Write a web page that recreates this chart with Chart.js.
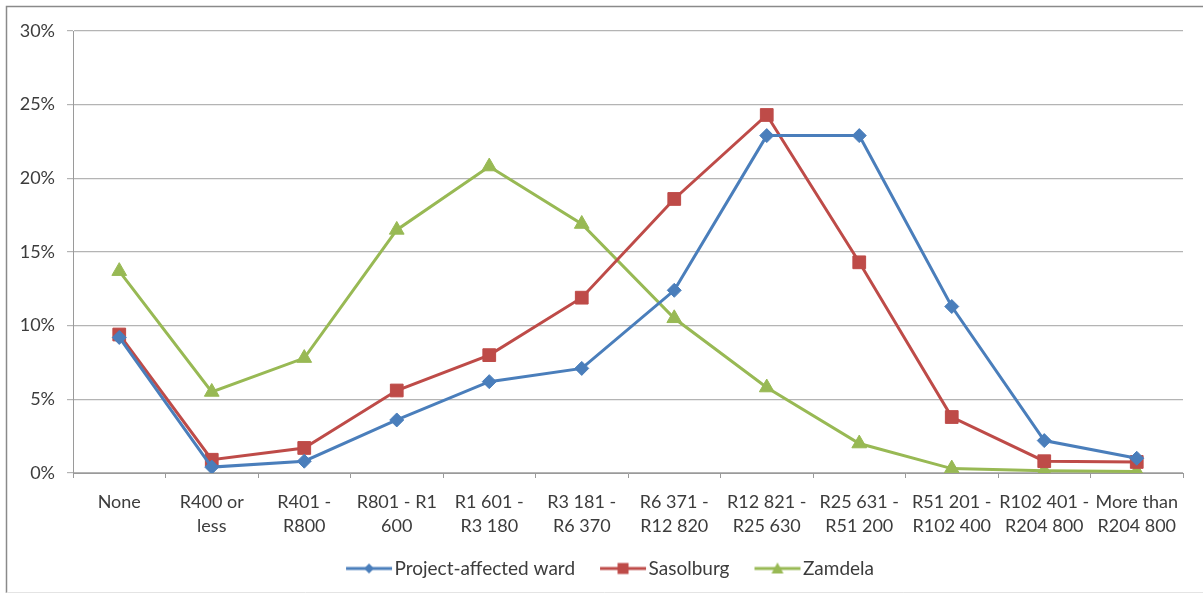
<!DOCTYPE html>
<html>
<head>
<meta charset="utf-8">
<script src="https://cdn.jsdelivr.net/npm/chart.js@4/dist/chart.umd.min.js"></script>
<style>
  html, body { margin: 0; padding: 0; background: #fff; }
  #wrap { width: 1203px; height: 598px; position: relative; }
</style>
</head>
<body>
<div id="wrap"><canvas id="c" width="1203" height="598"></canvas></div>
<script>
// Monthly household income bands
const incomeBands = [
  'None',
  ['R400 or', 'less'],
  ['R401 -', 'R800'],
  ['R801 - R1', '600'],
  ['R1 601 -', 'R3 180'],
  ['R3 181 -', 'R6 370'],
  ['R6 371 -', 'R12 820'],
  ['R12 821 -', 'R25 630'],
  ['R25 631 -', 'R51 200'],
  ['R51 201 -', 'R102 400'],
  ['R102 401 -', 'R204 800'],
  ['More than', 'R204 800']
];

// Share of households per band (%)
const projectWard = [9.2, 0.4, 0.8, 3.6, 6.2, 7.1, 12.4, 22.9, 22.9, 11.3, 2.2, 1.0];
const sasolburg   = [9.4, 0.9, 1.7, 5.6, 8.0, 11.9, 18.6, 24.3, 14.3, 3.8, 0.8, 0.75];
const zamdela     = [13.7, 5.5, 7.8, 16.5, 20.8, 16.9, 10.5, 5.8, 2.0, 0.3, 0.15, 0.1];

const yTicks = [0, 5, 10, 15, 20, 25, 30];

const FONT = 'Lato, "Liberation Sans", sans-serif';
const TEXT = '#3c3c3c';

// Legend swatch: a short line with a small series marker, drawn at the
// right end of a wider transparent image so it sits close to its text
function swatch(color, style) {
  const cv = document.createElement('canvas');
  cv.width = 72; cv.height = 14;
  const g = cv.getContext('2d');
  const x0 = 24, cx = x0 + 23;
  g.strokeStyle = color; g.lineWidth = 3;
  g.beginPath(); g.moveTo(x0, 7); g.lineTo(x0 + 46, 7); g.stroke();
  g.fillStyle = color;
  g.beginPath();
  if (style === 'rectRot') { g.moveTo(cx, 2); g.lineTo(cx + 5, 7); g.lineTo(cx, 12); g.lineTo(cx - 5, 7); }
  else if (style === 'rect') { g.rect(cx - 5.5, 1.5, 11, 11); }
  else { g.moveTo(cx, 1); g.lineTo(cx + 6, 12); g.lineTo(cx - 6, 12); }
  g.closePath(); g.fill();
  return cv;
}

const series = [
  { label: 'Project-affected ward', data: projectWard, color: '#4A7EBB', style: 'rectRot', r: 7 },
  { label: 'Sasolburg', data: sasolburg, color: '#BE4B48', style: 'rect', r: 9 },
  { label: 'Zamdela', data: zamdela, color: '#98B954', style: 'triangle', r: 8.5 }
];

// Chart frame: top and left edges, faint bottom edge
const framePlugin = {
  id: 'frame',
  afterLayout(chart) {
    // nudge the legend row to the right
    if (chart.legend) { chart.legend.left += 6; chart.legend.right += 6; }
  },
  afterDraw(chart) {
    const ctx = chart.ctx;
    ctx.save();
    ctx.strokeStyle = '#8a8a8a';
    ctx.lineWidth = 1.5;
    ctx.beginPath();
    ctx.moveTo(6.5, 593); ctx.lineTo(6.5, 6.5); ctx.lineTo(1203, 6.5);
    ctx.stroke();
    ctx.strokeStyle = '#e4e4e4';
    ctx.lineWidth = 1;
    ctx.beginPath();
    ctx.moveTo(6.5, 592.5); ctx.lineTo(1203, 592.5);
    ctx.stroke();
    ctx.restore();
  }
};

new Chart(document.getElementById('c'), {
  type: 'line',
  data: {
    labels: incomeBands,
    datasets: series.map(s => ({
      label: s.label,
      data: s.data,
      borderColor: s.color,
      backgroundColor: s.color,
      borderWidth: 3,
      pointStyle: s.style,
      pointRadius: s.r,
      pointHoverRadius: s.r,
      pointBorderWidth: 1,
      tension: 0,
      fill: false
    }))
  },
  options: {
    responsive: false,
    animation: false,
    layout: { padding: { left: 10, right: 20, top: 31, bottom: 10 } },
    plugins: {
      tooltip: { enabled: false },
      legend: {
        position: 'bottom',
        labels: {
          font: { family: FONT, size: 19 },
          color: TEXT,
          usePointStyle: true,
          pointStyleWidth: 54,
          padding: 10,
          generateLabels(chart) {
            return series.map((s, i) => ({
              text: s.label,
              pointStyle: swatch(s.color, s.style),
              fillStyle: s.color,
              strokeStyle: s.color,
              lineWidth: 0,
              hidden: false,
              datasetIndex: i,
              fontColor: TEXT
            }));
          }
        }
      }
    },
    scales: {
      x: {
        offset: true,
        grid: { offset: true, drawOnChartArea: false, drawTicks: true, tickLength: 5, color: '#9a9a9a' },
        border: { color: '#9a9a9a' },
        afterFit(scale) { scale.height = 76; },
        ticks: {
          font: { family: FONT, size: 18, lineHeight: 1.33 },
          color: TEXT,
          maxRotation: 0,
          autoSkip: false,
          padding: 12
        }
      },
      y: {
        min: 0,
        max: 30,
        afterFit(scale) { scale.width = 63; },
        afterBuildTicks(scale) { scale.ticks = yTicks.map(v => ({ value: v })); },
        grid: { color: '#b4b4b4', tickLength: 6, lineWidth: 1.2 },
        border: { color: '#9a9a9a' },
        ticks: {
          font: { family: FONT, size: 18 },
          color: TEXT,
          padding: 12,
          callback: v => v + '%'
        }
      }
    }
  },
  plugins: [framePlugin]
});
</script>
</body>
</html>
